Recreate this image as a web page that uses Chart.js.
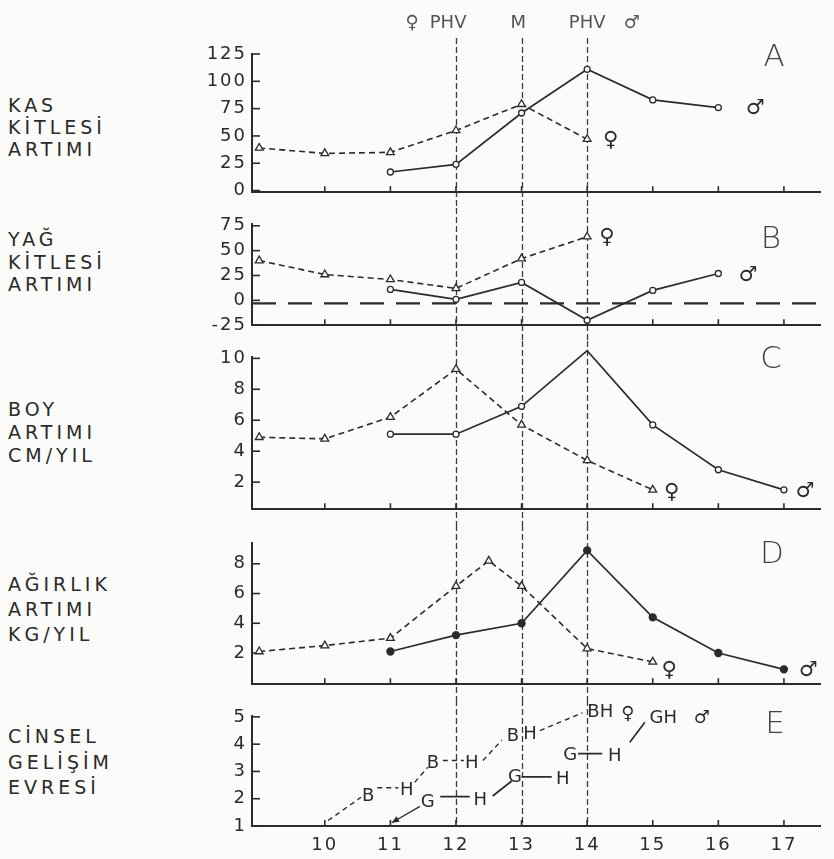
<!DOCTYPE html>
<html lang="tr">
<head>
<meta charset="utf-8">
<title>Büyüme artımları</title>
<script src="https://cdn.jsdelivr.net/npm/chart.js@4.4.1/dist/chart.umd.min.js"></script>
<style>
  html, body { margin: 0; padding: 0; background: #fbfbf9; }
  #sayfa { position: relative; width: 834px; height: 859px; overflow: hidden;
           font-family: 'DejaVu Sans', sans-serif; color: #2b2b2b; }
  .panel { position: absolute; left: 0; width: 834px; }
  .panel canvas { display: block; }
  .baslik { position: absolute; left: 8px; font-size: 19px; letter-spacing: 4px; white-space: nowrap; }
  .harf { position: absolute; font-size: 31px; font-weight: 200; color: #444;
          transform: translate(-50%, -50%); }
</style>
</head>
<body>
<div id="sayfa">
  <div class="baslik" style="top:94px; line-height:22px">KAS<br>KİTLESİ<br>ARTIMI</div>
  <div class="baslik" style="top:228px; line-height:22.5px">YAĞ<br>KİTLESİ<br>ARTIMI</div>
  <div class="baslik" style="top:398px; line-height:23px">BOY<br>ARTIMI<br>CM/YIL</div>
  <div class="baslik" style="top:572px; line-height:25px">AĞIRLIK<br>ARTIMI<br>KG/YIL</div>
  <div class="baslik" style="top:724px; line-height:25.5px">CİNSEL<br>GELİŞİM<br>EVRESİ</div>

  <div class="panel" style="top:0px; height:208px"><canvas id="grafikA" width="834" height="208"></canvas></div>
  <div class="panel" style="top:208px; height:133px"><canvas id="grafikB" width="834" height="133"></canvas></div>
  <div class="panel" style="top:341px; height:184px"><canvas id="grafikC" width="834" height="184"></canvas></div>
  <div class="panel" style="top:525px; height:175px"><canvas id="grafikD" width="834" height="175"></canvas></div>
  <div class="panel" style="top:700px; height:159px"><canvas id="grafikE" width="834" height="159"></canvas></div>

  <div class="harf" style="left:774px; top:55px">A</div>
  <div class="harf" style="left:771px; top:237px">B</div>
  <div class="harf" style="left:771px; top:357px">C</div>
  <div class="harf" style="left:772px; top:552px">D</div>
  <div class="harf" style="left:775px; top:722px">E</div>
</div>

<script>
// Yaş ekseni (yıl) ve dikey referans çizgileri (♀ PHV, M, PHV ♂)
const yaslar = [10, 11, 12, 13, 14, 15, 16, 17];
const dikeyCizgiler = [12, 13, 14];
const ustYazilar = ['♀', 'PHV', 'M', 'PHV', '♂'];
const ustYaziX = [11.33, 11.88, 12.95, 14.0, 14.68];

// A: kas kitlesi artımı
const kasTikleri = [0, 25, 50, 75, 100, 125];
const kasKizX = [9, 10, 11, 12, 13, 14];
const kasKizY = [39, 34, 35, 55, 79, 47];
const kasErkekX = [11, 12, 13, 14, 15, 16];
const kasErkekY = [17, 24, 71, 111, 83, 76];

// B: yağ kitlesi artımı
const yagTikleri = [-25, 0, 25, 50, 75];
const yagKizX = [9, 10, 11, 12, 13, 14];
const yagKizY = [40, 26, 21, 12, 42, 64];
const yagErkekX = [11, 12, 13, 14, 15, 16];
const yagErkekY = [11, 1, 18, -20, 10, 27];
const yagSifirX = [8.89, 17.55];
const yagSifirY = [-3, -3];

// C: boy artımı (cm/yıl)
const boyTikleri = [2, 4, 6, 8, 10];
const boyKizX = [9, 10, 11, 12, 13, 14, 15];
const boyKizY = [4.9, 4.8, 6.2, 9.3, 5.7, 3.4, 1.5];
const boyErkekX = [11, 12, 13, 14, 15, 16, 17];
const boyErkekY = [5.1, 5.1, 6.9, 10.5, 5.7, 2.8, 1.5];

// D: ağırlık artımı (kg/yıl)
const agirlikTikleri = [2, 4, 6, 8];
const agirlikKizX = [9, 10, 11, 12, 12.5, 13, 14, 15];
const agirlikKizY = [2.1, 2.5, 3.0, 6.5, 8.2, 6.5, 2.3, 1.4];
const agirlikErkekX = [11, 12, 13, 14, 15, 16, 17];
const agirlikErkekY = [2.1, 3.2, 4.0, 8.9, 4.4, 2.0, 0.9];

// Cinsiyet işaretleri (panel başına ♀, ♂)
const isaretler = ['♀', '♂'];
const kasIsaretX = [14.36, 16.56], kasIsaretY = [46, 75];
const yagIsaretX = [14.3, 16.45], yagIsaretY = [63, 25];
const boyIsaretX = [15.29, 17.32], boyIsaretY = [1.3, 1.4];
const agirlikIsaretX = [15.25, 17.37], agirlikIsaretY = [0.8, 0.8];

// E: cinsel gelişim evresi (B = meme, G = genital, H = kıllanma)
const evreTikleri = [1, 2, 3, 4, 5];
const evreKizCizgiX = [10.05, 10.55, null, 10.8, 11.12, null, 11.37, 11.57, null, 11.8, 12.12, null, 12.41, 12.7, null, 13.28, 13.93];
const evreKizCizgiY = [1.2, 2.05, null, 2.4, 2.4, null, 2.6, 3.15, null, 3.4, 3.4, null, 3.4, 4.15, null, 4.5, 5.15];
const evreErkekCizgiX = [11.76, 12.21, null, 12.56, 12.85, null, 13.0, 13.46, null, 13.86, 14.23, null, 14.65, 14.88];
const evreErkekCizgiY = [2.08, 2.08, null, 2.1, 2.65, null, 2.8, 2.8, null, 3.65, 3.65, null, 4.07, 4.8];
const evreOkX = [11.45, 11.02];
const evreOkY = [1.72, 1.12];
const evreKizHarf = ['B', 'H', 'B', 'H', 'B', 'H', 'BH', '♀'];
const evreKizHarfX = [10.66, 11.25, 11.65, 12.24, 12.87, 13.13, 14.2, 14.62];
const evreKizHarfY = [2.1, 2.3, 3.3, 3.3, 4.3, 4.35, 5.15, 5.1];
const evreErkekHarf = ['G', 'H', 'G', 'H', 'G', 'H', 'GH', '♂'];
const evreErkekHarfX = [11.57, 12.37, 12.9, 13.63, 13.74, 14.42, 15.16, 15.75];
const evreErkekHarfY = [1.86, 1.93, 2.8, 2.7, 3.6, 3.55, 4.95, 4.95];

const MUREKKEP = '#2b2b2b';
const ZEMIN = '#fbfbf9';
const X_MIN = 8.89, X_MAX = 17.55;
const YAZI = 'DejaVu Sans';

function noktalar(xs, ys) {
    return xs.map((x, i) => ({ x: x, y: ys[i] }));
}

function kizSerisi(xs, ys) {
    return {
        data: noktalar(xs, ys),
        showLine: true,
        borderColor: MUREKKEP,
        borderWidth: 1.6,
        borderDash: [6, 4],
        pointStyle: 'triangle',
        pointRadius: 4.5,
        pointBackgroundColor: ZEMIN,
        pointBorderColor: MUREKKEP,
        pointBorderWidth: 1.3,
        clip: false
    };
}

function erkekSerisi(xs, ys, dolu) {
    return {
        data: noktalar(xs, ys),
        showLine: true,
        borderColor: MUREKKEP,
        borderWidth: 1.7,
        pointStyle: 'circle',
        pointRadius: dolu ? 3.5 : 3,
        pointBackgroundColor: dolu ? MUREKKEP : ZEMIN,
        pointBorderColor: MUREKKEP,
        pointBorderWidth: 1.3,
        clip: false
    };
}

function cizgiSerisi(xs, ys, kesik, kalinlik) {
    return {
        data: noktalar(xs, ys),
        showLine: true,
        spanGaps: false,
        borderColor: MUREKKEP,
        borderWidth: kalinlik || 1.5,
        borderDash: kesik || [],
        pointRadius: 0,
        clip: false
    };
}

// Dikey kesikli çizgiler, içe dönük tikler, harfler ve işaretler
function suslemeler(ayar) {
    return {
        id: 'suslemeler',
        beforeDraw(chart) {
            // eksen rakamları taramadaki gibi biraz açık aralıklı
            chart.ctx.letterSpacing = '2px';
        },
        beforeDatasetsDraw(chart) {
            const { ctx, chartArea: a, scales: { x, y } } = chart;
            ctx.save();
            ctx.strokeStyle = '#3c3c3c';
            ctx.lineWidth = 1.3;
            ctx.setLineDash([6, 3]);
            dikeyCizgiler.forEach(v => {
                const px = Math.round(x.getPixelForValue(v)) + 0.5;
                ctx.beginPath();
                ctx.moveTo(px, ayar.cizgiUst || 0);
                ctx.lineTo(px, ayar.eksendeBitir ? a.bottom : chart.height);
                ctx.stroke();
            });
            ctx.setLineDash([]);
            ctx.strokeStyle = MUREKKEP;
            ctx.lineWidth = 1.6;
            yaslar.forEach(v => {
                const px = x.getPixelForValue(v);
                ctx.beginPath();
                ctx.moveTo(px, a.bottom);
                ctx.lineTo(px, a.bottom - 6);
                ctx.stroke();
            });
            ayar.yTikleri.forEach(v => {
                const py = y.getPixelForValue(v);
                ctx.beginPath();
                ctx.moveTo(a.left, py);
                ctx.lineTo(a.left + 8, py);
                ctx.stroke();
            });
            ctx.restore();
        },
        afterDatasetsDraw(chart) {
            const { ctx, scales: { x, y } } = chart;
            ctx.save();
            ctx.letterSpacing = '0px';
            ctx.textAlign = 'center';
            ctx.textBaseline = 'middle';
            (ayar.yazilar || []).forEach(g => {
                ctx.font = (g.boyut || 18) + 'px "' + YAZI + '"';
                ctx.fillStyle = g.renk || MUREKKEP;
                g.metin.forEach((m, i) => {
                    const py = g.pikselY != null ? g.pikselY : y.getPixelForValue(g.y[i]);
                    ctx.fillText(m, x.getPixelForValue(g.x[i]), py);
                });
            });
            if (ayar.ok) {
                // okun ucu
                const n = ayar.ok.x.length;
                const x1 = x.getPixelForValue(ayar.ok.x[n - 2]), y1 = y.getPixelForValue(ayar.ok.y[n - 2]);
                const x2 = x.getPixelForValue(ayar.ok.x[n - 1]), y2 = y.getPixelForValue(ayar.ok.y[n - 1]);
                const aci = Math.atan2(y2 - y1, x2 - x1);
                ctx.fillStyle = MUREKKEP;
                ctx.beginPath();
                ctx.moveTo(x2, y2);
                ctx.lineTo(x2 - 8 * Math.cos(aci - 0.4), y2 - 8 * Math.sin(aci - 0.4));
                ctx.lineTo(x2 - 8 * Math.cos(aci + 0.4), y2 - 8 * Math.sin(aci + 0.4));
                ctx.closePath();
                ctx.fill();
            }
            ctx.restore();
        }
    };
}

function panelKur(id, ayar) {
    const canvas = document.getElementById(id);
    return new Chart(canvas, {
        type: 'scatter',
        data: { datasets: ayar.seriler },
        options: {
            responsive: false,
            animation: false,
            devicePixelRatio: 1,
            layout: { padding: { left: 0, right: 14, top: ayar.ust, bottom: ayar.alt } },
            plugins: { legend: { display: false }, tooltip: { enabled: false } },
            scales: {
                x: {
                    type: 'linear',
                    min: X_MIN,
                    max: X_MAX,
                    grid: { display: false, drawTicks: false },
                    border: { display: true, color: MUREKKEP, width: 2 },
                    ticks: {
                        display: !!ayar.xEtiket,
                        color: MUREKKEP,
                        font: { family: YAZI, size: 18 },
                        padding: 9,
                        callback: v => String(v)
                    },
                    afterBuildTicks: s => { s.ticks = yaslar.map(v => ({ value: v })); },
                    afterFit: s => { s.height = ayar.xEtiket ? 30 : 0; }
                },
                y: {
                    type: 'linear',
                    min: ayar.yMin,
                    max: ayar.yMax,
                    grid: { display: false, drawTicks: false },
                    border: { display: true, color: MUREKKEP, width: 2 },
                    ticks: {
                        color: MUREKKEP,
                        font: { family: YAZI, size: 18 },
                        padding: 5,
                        callback: v => String(v)
                    },
                    afterBuildTicks: s => { s.ticks = ayar.yTikleri.map(v => ({ value: v })); },
                    afterFit: s => { s.width = 252; }
                }
            }
        },
        plugins: [suslemeler(ayar)]
    });
}

panelKur('grafikA', {
    ust: 54, alt: 11, yMin: -1.5, yMax: 125, yTikleri: kasTikleri, cizgiUst: 38,
    seriler: [kizSerisi(kasKizX, kasKizY), erkekSerisi(kasErkekX, kasErkekY, false)],
    yazilar: [
        { metin: ustYazilar, x: ustYaziX, pikselY: 23, boyut: 18, renk: '#555' },
        { metin: isaretler, x: kasIsaretX, y: kasIsaretY, boyut: 21 }
    ]
});

panelKur('grafikB', {
    ust: 12, alt: 12, yMin: -25, yMax: 77, yTikleri: yagTikleri,
    seriler: [
        cizgiSerisi(yagSifirX, yagSifirY, [24, 12], 2.2),
        kizSerisi(yagKizX, yagKizY),
        erkekSerisi(yagErkekX, yagErkekY, false)
    ],
    yazilar: [{ metin: isaretler, x: yagIsaretX, y: yagIsaretY, boyut: 21 }]
});

panelKur('grafikC', {
    ust: 14, alt: 12, yMin: 0.25, yMax: 10.1, yTikleri: boyTikleri,
    seriler: [kizSerisi(boyKizX, boyKizY), erkekSerisi(boyErkekX, boyErkekY, false)],
    yazilar: [{ metin: isaretler, x: boyIsaretX, y: boyIsaretY, boyut: 21 }]
});

panelKur('grafikD', {
    ust: 18, alt: 13, yMin: -0.1, yMax: 9.4, yTikleri: agirlikTikleri,
    seriler: [kizSerisi(agirlikKizX, agirlikKizY), erkekSerisi(agirlikErkekX, agirlikErkekY, true)],
    yazilar: [{ metin: isaretler, x: agirlikIsaretX, y: agirlikIsaretY, boyut: 21 }]
});

panelKur('grafikE', {
    ust: 13, alt: 3, yMin: 1, yMax: 5.04, yTikleri: evreTikleri, xEtiket: true, eksendeBitir: true,
    seriler: [
        cizgiSerisi(evreKizCizgiX, evreKizCizgiY, [5, 4], 1.4),
        cizgiSerisi(evreErkekCizgiX, evreErkekCizgiY, [], 1.7),
        cizgiSerisi(evreOkX, evreOkY, [], 1.3)
    ],
    ok: { x: evreOkX, y: evreOkY },
    yazilar: [
        { metin: evreKizHarf, x: evreKizHarfX, y: evreKizHarfY, boyut: 18 },
        { metin: evreErkekHarf, x: evreErkekHarfX, y: evreErkekHarfY, boyut: 18 }
    ]
});
</script>
</body>
</html>
